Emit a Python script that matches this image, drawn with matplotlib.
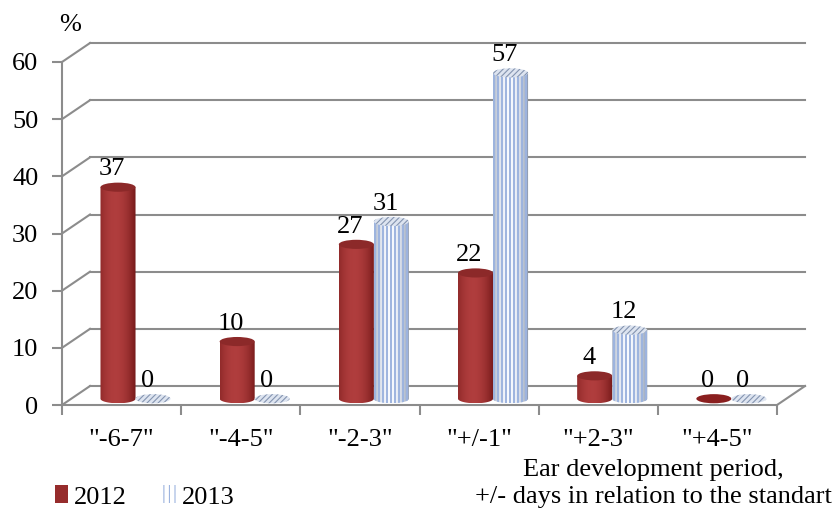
import numpy as np
import matplotlib.pyplot as plt
from matplotlib.patches import Ellipse, PathPatch, Patch
from matplotlib.path import Path

categories = ['"-6-7"', '"-4-5"', '"-2-3"', '"+/-1"', '"+2-3"', '"+4-5"']
values_2012 = [37, 10, 27, 22, 4, 0]
values_2013 = [0, 0, 31, 57, 12, 0]
y_ticks = [0, 10, 20, 30, 40, 50, 60]

plt.rcParams['font.family'] = ['Liberation Serif', 'DejaVu Serif']
plt.rcParams['hatch.linewidth'] = 0.8

# pseudo-3D geometry, in data units (x: categories, y: percent)
WALL_DX, WALL_DY = 0.235, 3.32   # front plane -> back wall
BAR_DX, BAR_DY = 0.113, 1.1      # front plane -> bar row
BAR_W = 0.294
BAR_OFF = [0.21, 0.504]          # left edge of each series inside a category
CAP_H = 0.8                      # half height of the cylinder caps
GRID = '#8c8c8c'
FS = 19

fig = plt.figure(figsize=(8.39, 5.15), dpi=100)
ax = fig.add_axes([62 / 839, 110 / 515, 715 / 839, 343 / 515])
ax.set_facecolor('none')

# back wall, left side wall and floor lines
for v in y_ticks:
    ax.plot([0, WALL_DX], [v, v + WALL_DY], color=GRID, lw=1.5, clip_on=False, zorder=1)
    ax.plot([WALL_DX, len(categories) + WALL_DX], [v + WALL_DY, v + WALL_DY],
            color=GRID, lw=1.5, clip_on=False, zorder=1)
ax.plot([len(categories), len(categories) + WALL_DX], [0, WALL_DY],
        color=GRID, lw=1.5, clip_on=False, zorder=1)


def profile(n, peak):
    t = np.linspace(0, 1, n)
    b = 1 - ((t - peak) / max(peak, 1 - peak)) ** 2
    return np.clip(b, 0, 1)


def gradient(dark, light, peak):
    b = profile(64, peak)[:, None]
    dark, light = np.array(dark), np.array(light)
    return (dark + (light - dark) * b)[None, :, :]


def cylinder_body(x0, x1, y0, y1):
    xc, r = (x0 + x1) / 2, (x1 - x0) / 2
    th = np.linspace(np.pi, 2 * np.pi, 40)
    pts = [(x0, y1)] + list(zip(xc + r * np.cos(th), y0 + CAP_H * np.sin(th))) + [(x1, y1), (x0, y1)]
    codes = [Path.MOVETO] + [Path.LINETO] * (len(pts) - 2) + [Path.CLOSEPOLY]
    return Path(pts, codes)


red_img = gradient((0.46, 0.10, 0.10), (0.69, 0.24, 0.24), 0.42)
blue_img = gradient((0.52, 0.58, 0.68), (0.97, 0.98, 1.0), 0.45)


def draw_bar(i, s, v, z):
    x0 = i + BAR_OFF[s] + BAR_DX
    x1 = x0 + BAR_W
    xc = (x0 + x1) / 2
    y0 = BAR_DY
    y1 = v + BAR_DY
    if v > 0:
        body = PathPatch(cylinder_body(x0, x1, y0, y1), fc='none', ec='none', clip_on=False)
        ax.add_patch(body)
        im = ax.imshow(red_img if s == 0 else blue_img, extent=[x0, x1, y0 - CAP_H, y1],
                       aspect='auto', interpolation='bilinear', zorder=z)
        im.set_clip_path(body)
        if s == 1:
            xs = np.arange(x0 + 0.012, x1, 0.0336)
            lines = ax.vlines(xs, y0 - CAP_H, y1, colors='#9db4df', lw=1.4, zorder=z + 0.1)
            lines.set_clip_path(body)
    if s == 0:
        cap = Ellipse((xc, y1), BAR_W, 2 * CAP_H, fc='#8c2929' if v > 0 else '#8a1f1f',
                      ec='none', zorder=z + 0.2, clip_on=False)
    else:
        cap = Ellipse((xc, y1), BAR_W, 2 * CAP_H, fc='#dde4f0', ec='#8494b0',
                      hatch='//////', lw=0, zorder=z + 0.2, clip_on=False)
    ax.add_patch(cap)
    ax.text(xc - 0.05, y1 + 3.1, f'{v}', ha='center', va='center', fontsize=FS,
            zorder=z + 0.3)


for i in range(len(categories)):
    draw_bar(i, 0, values_2012[i], 3 + i)
    draw_bar(i, 1, values_2013[i], 3.5 + i)

ax.set_xlim(0, len(categories))
ax.set_ylim(0, 60)

for side in ['top', 'right']:
    ax.spines[side].set_visible(False)
for side in ['left', 'bottom']:
    ax.spines[side].set_color(GRID)
    ax.spines[side].set_linewidth(1.5)
    ax.spines[side].set_zorder(2)

ax.set_yticks(y_ticks)
ax.set_yticklabels([str(v) for v in y_ticks], fontsize=FS)
ax.tick_params(axis='y', length=7, width=1.5, color=GRID, pad=10)
ax.set_xticks(np.arange(len(categories)) + 0.5)
ax.set_xticklabels(categories, fontsize=FS)
ax.set_xticks(np.arange(len(categories) + 1), minor=True)
ax.tick_params(axis='x', which='major', length=0, pad=17)
ax.tick_params(axis='x', which='minor', length=7, width=1.5, color=GRID)

fig.text(70 / 839, 1 - 25 / 515, '%', ha='center', va='center', fontsize=FS)
fig.text(653 / 839, 1 - 470 / 515, 'Ear development period,', ha='center', va='center', fontsize=FS)
fig.text(653 / 839, 1 - 497 / 515, '+/- days in relation to the standart', ha='center',
         va='center', fontsize=FS)

handles = [Patch(fc='#962c2c', ec='none'),
           Patch(fc='white', ec='#9db4df', hatch='|||', lw=0)]
fig.legend(handles, ['2012', '2013'], loc='center left', bbox_to_anchor=(55 / 839, 1 - 497 / 515),
           ncol=2, frameon=False, fontsize=FS, handlelength=0.5, handleheight=0.65,
           handletextpad=0.2, columnspacing=1.4, borderpad=0, borderaxespad=0)

fig.savefig('out.png', dpi=100)
